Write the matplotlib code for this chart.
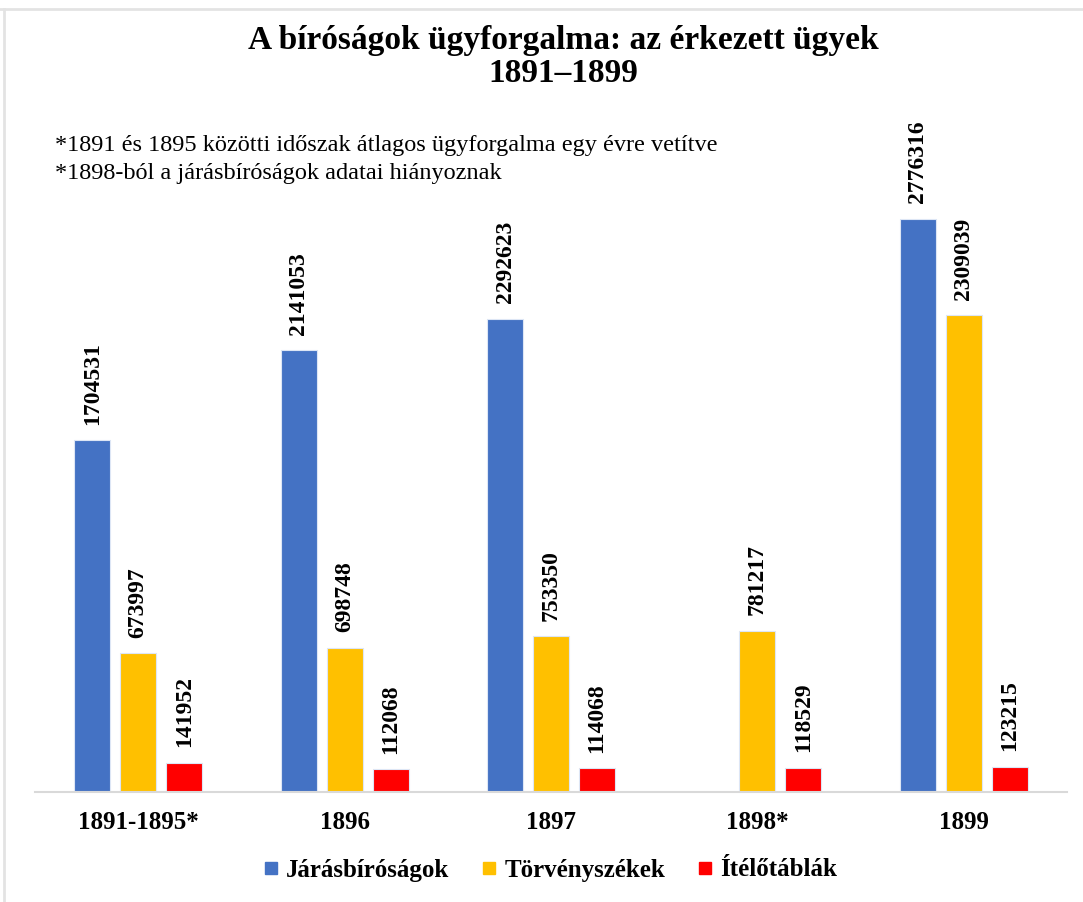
import matplotlib.pyplot as plt
import numpy as np
from matplotlib.lines import Line2D

plt.rcParams['font.family'] = ['Liberation Serif', 'DejaVu Serif']

# adatok
categories = ['1891-1895*', '1896', '1897', '1898*', '1899']
jaras = [1704531, 2141053, 2292623, np.nan, 2776316]
torveny = [673997, 698748, 753350, 781217, 2309039]
itelo = [141952, 112068, 114068, 118529, 123215]
series_names = ['Járásbíróságok', 'Törvényszékek', 'Ítélőtáblák']
colors = ['#4472C4', '#FFC000', '#FF0000']
notes = ['*1891 és 1895 közötti időszak átlagos ügyforgalma egy évre vetítve',
         '*1898-ból a járásbíróságok adatai hiányoznak']

fig = plt.figure(figsize=(10.83, 9.02), dpi=100)
ax = fig.add_axes([35 / 1083, 110 / 902, 1032 / 1083, 662 / 902])

x = np.arange(len(categories))
w = 36 / 206.5
step = 46 / 206.5
for i, (vals, col) in enumerate(zip([jaras, torveny, itelo], colors)):
    pos = x + (i - 1) * step
    for xp, v in zip(pos, vals):
        if np.isnan(v):
            continue
        ax.bar(xp, v, width=w, color=col, edgecolor='#DDE6F5', linewidth=0.8)
        ax.annotate(str(v), (xp, v), xytext=(0, 11), textcoords='offset points',
                    rotation=90, ha='center', va='bottom',
                    fontsize=17, fontweight='bold')

ax.set_xlim(-0.5, 4.5)
ax.set_ylim(0, 662 / 2.065e-4)
for s in ['top', 'right', 'left']:
    ax.spines[s].set_visible(False)
ax.spines['bottom'].set_color('#D9D9D9')
ax.spines['bottom'].set_linewidth(1.5)
ax.set_yticks([])
ax.set_xticks(x)
ax.set_xticklabels(categories, fontsize=18, fontweight='bold')
ax.tick_params(axis='x', length=0, pad=14)

fig.text(0.52, 1 - 41 / 902, 'A bíróságok ügyforgalma: az érkezett ügyek',
         ha='center', va='center', fontsize=24, fontweight='bold')
fig.text(0.52, 1 - 74 / 902, '1891–1899',
         ha='center', va='center', fontsize=24, fontweight='bold')
fig.text(55 / 1083, 1 - 145 / 902, notes[0], ha='left', va='center', fontsize=17.5)
fig.text(55 / 1083, 1 - 173 / 902, notes[1], ha='left', va='center', fontsize=17.5)

handles = [Line2D([], [], marker='s', linestyle='', markersize=9,
                  markerfacecolor=c, markeredgecolor=c) for c in colors]
fig.legend(handles, series_names, loc='center', bbox_to_anchor=(0.508, 1 - 870 / 902),
           ncol=3, frameon=False, prop={'size': 18, 'weight': 'bold'},
           handlelength=0.6, handletextpad=0.3, columnspacing=1.3)

# keret
fig.add_artist(Line2D([0.004, 0.004], [0, 0.99], transform=fig.transFigure,
                      color='#E3E3E3', linewidth=2))
fig.add_artist(Line2D([0, 1], [0.99, 0.99], transform=fig.transFigure,
                      color='#E3E3E3', linewidth=2))

fig.savefig('out.png', dpi=100)
